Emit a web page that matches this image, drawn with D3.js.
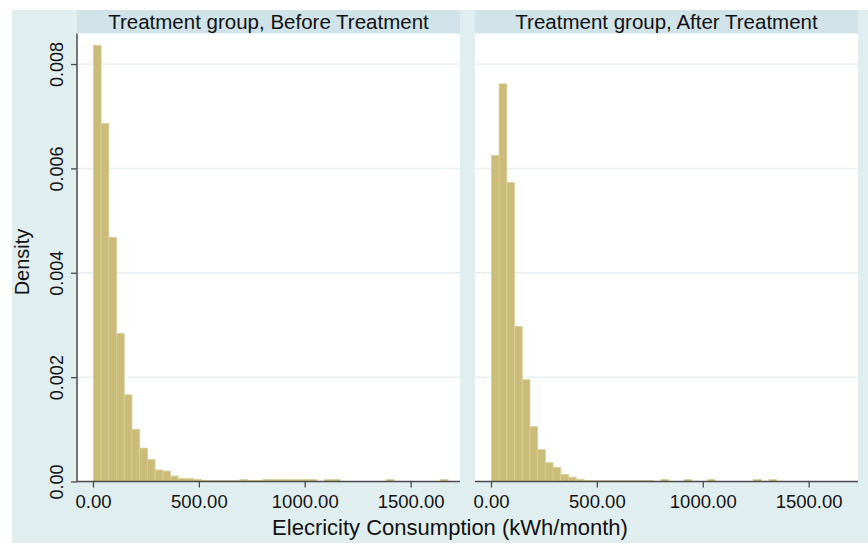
<!DOCTYPE html>
<html>
<head>
<meta charset="utf-8">
<script src="https://cdn.jsdelivr.net/npm/d3@7/dist/d3.min.js"></script>
<style>
  html, body { margin: 0; padding: 0; background: #ffffff; }
  svg { display: block; font-family: "Liberation Sans", Arial, Helvetica, sans-serif; }
</style>
</head>
<body>
<svg id="chart" width="868" height="543"></svg>
<script>
// ---------- data ----------
const panelTitles = ["Treatment group, Before Treatment", "Treatment group, After Treatment"];
const binStart = 2;       // kWh/month, left edge of first bin
const binWidth = 36.4;    // kWh/month
const densityBefore = [
  0.00836, 0.00686, 0.00468, 0.00284, 0.00166, 0.00100, 0.00064, 0.00042, 0.00022, 0.00020,
  0.000105, 0.00006, 0.000054, 0.000042, 0.000023, 0.000018, 0.000018, 0.000018, 0.000018, 0.000036,
  0.000018, 0.000018, 0.000036, 0.000036, 0.000036, 0.000036, 0.000036, 0.000036, 0.000036, 0,
  0.000036, 0.000036, 0, 0, 0, 0, 0, 0, 0.000036, 0,
  0, 0, 0, 0, 0, 0.000036
];
const densityAfter = [
  0.00625, 0.00762, 0.00573, 0.00297, 0.00195, 0.00105, 0.00061, 0.00036, 0.00027, 0.000134,
  0.000082, 0.000038, 0.00002, 0.000018, 0.000018, 0.000018, 0.000018, 0.000018, 0.000018, 0.000018,
  0.000018, 0, 0.000036, 0, 0, 0.000036, 0, 0, 0.000036, 0,
  0, 0, 0, 0, 0.000036, 0, 0.000036
];
const xTicks = [0, 500, 1000, 1500];
const yTicks = [0, 0.002, 0.004, 0.006, 0.008];
const xTitle = "Elecricity Consumption (kWh/month)";
const yTitle = "Density";

// ---------- layout ----------
const svg = d3.select("#chart");
const bg = "#e1eeef", stripCol = "#d0e3e9", axisCol = "#4a4a4a", gridCol = "#e5eef1";
const barFill = "#cbbd79", barStroke = "#d9ce97";

svg.append("rect").attr("x", 12).attr("y", 10).attr("width", 856).attr("height", 533).attr("fill", bg);

const panels = [
  { title: panelTitles[0], data: densityBefore, x0: 77, x1: 460, yAxis: true },
  { title: panelTitles[1], data: densityAfter,  x0: 475, x1: 858, yAxis: false }
];
const stripTop = 10, plotTop = 33.5, plotBottom = 481.5;

const y = d3.scaleLinear().domain([0, 0.008585]).range([plotBottom, plotTop]);
const fmtY = v => v === 0 ? "0.00" : d3.format(".3f")(v);
const fmtX = d3.format(".2f");

panels.forEach(p => {
  const x = d3.scaleLinear().domain([-75.5, 1733]).range([p.x0, p.x1]);
  const g = svg.append("g");

  // strip
  g.append("rect").attr("x", p.x0).attr("y", stripTop).attr("width", p.x1 - p.x0)
    .attr("height", plotTop - stripTop).attr("fill", stripCol);
  g.append("text").attr("x", (p.x0 + p.x1) / 2).attr("y", 28.5)
    .attr("text-anchor", "middle").attr("font-size", 20.5).attr("fill", "#111")
    .text(p.title);

  // plot region
  g.append("rect").attr("x", p.x0).attr("y", plotTop).attr("width", p.x1 - p.x0)
    .attr("height", plotBottom - plotTop).attr("fill", "#ffffff");

  // grid
  g.selectAll("line.grid").data(yTicks.filter(d => d > 0)).enter().append("line")
    .attr("x1", p.x0).attr("x2", p.x1)
    .attr("y1", d => y(d)).attr("y2", d => y(d))
    .attr("stroke", gridCol).attr("stroke-width", 1.3);

  // bars
  const bins = p.data.map((d, i) => ({ lo: binStart + i * binWidth, hi: binStart + (i + 1) * binWidth, d }))
    .filter(b => b.d > 0);
  g.selectAll("rect.bar").data(bins).enter().append("rect")
    .attr("x", b => x(b.lo)).attr("width", b => x(b.hi) - x(b.lo))
    .attr("y", b => y(b.d)).attr("height", b => y(0) - y(b.d))
    .attr("fill", barFill).attr("stroke", barStroke).attr("stroke-width", 0.8);

  // x axis
  const xa = g.append("g").attr("transform", `translate(0,${plotBottom})`)
    .call(d3.axisBottom(x).tickValues(xTicks).tickFormat(fmtX).tickSize(6).tickPadding(7));
  xa.select(".domain").attr("stroke", axisCol).attr("stroke-width", 1.5)
    .attr("d", `M${p.x0},0H${p.x1}`);
  xa.selectAll(".tick line").attr("stroke", axisCol).attr("stroke-width", 1.3);
  xa.selectAll(".tick text").attr("font-size", 18.5).attr("fill", "#111")
    .attr("font-family", "Liberation Sans, Arial, sans-serif");

  // y axis
  if (p.yAxis) {
    const ya = g.append("g").attr("transform", `translate(${p.x0},0)`)
      .call(d3.axisLeft(y).tickValues(yTicks).tickFormat(fmtY).tickSize(6).tickPadding(4));
    ya.select(".domain").attr("stroke", axisCol).attr("stroke-width", 1.5)
      .attr("d", `M0,${plotTop}V${plotBottom}`);
    ya.selectAll(".tick line").attr("stroke", axisCol).attr("stroke-width", 1.3);
    ya.selectAll(".tick text").attr("font-size", 18).attr("fill", "#111")
      .attr("font-family", "Liberation Sans, Arial, sans-serif")
      .attr("text-anchor", "middle").attr("dy", null)
      .attr("transform", "rotate(-90)")
      .attr("x", 0).attr("y", -14);
  }
});

// axis titles
svg.append("text").attr("x", 450).attr("y", 535).attr("text-anchor", "middle")
  .attr("font-size", 22).attr("fill", "#111").text(xTitle);
svg.append("text").attr("transform", "translate(29,262) rotate(-90)")
  .attr("text-anchor", "middle").attr("font-size", 20).attr("fill", "#111").text(yTitle);
</script>
</body>
</html>
